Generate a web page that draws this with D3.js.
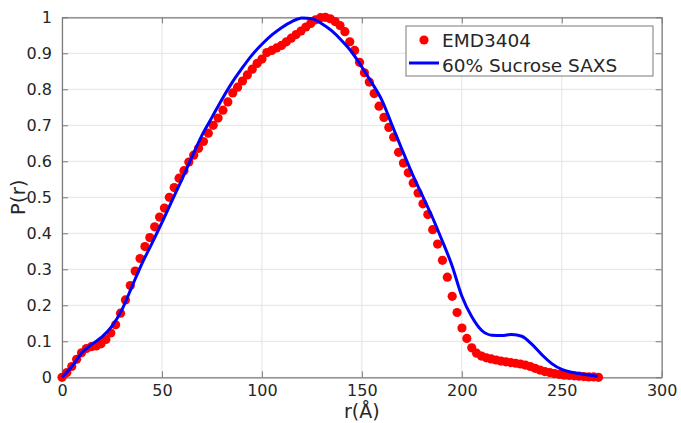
<!DOCTYPE html>
<html>
<head>
<meta charset="utf-8">
<script src="https://cdn.jsdelivr.net/npm/d3@7"></script>
<style>
  body { margin: 0; background: #fff; }
  svg text { font-family: "DejaVu Sans", sans-serif; fill: #262626; }
</style>
</head>
<body>
<div id="chart"></div>
<script>
// EMD3404 P(r) samples
const emdR = [0, 2.44, 4.88, 7.32, 9.76, 12.2, 14.64, 17.08, 19.52, 21.96,
  24.4, 26.84, 29.28, 31.72, 34.16, 36.6, 39.04, 41.48, 43.92, 46.36,
  48.8, 51.24, 53.68, 56.12, 58.56, 61, 63.44, 65.88, 68.32, 70.76,
  73.2, 75.64, 78.08, 80.52, 82.96, 85.4, 87.84, 90.28, 92.72, 95.16,
  97.6, 100.04, 102.48, 104.92, 107.36, 109.8, 112.24, 114.68, 117.12, 119.56,
  122, 124.44, 126.88, 129.32, 131.76, 134.2, 136.64, 139.08, 141.52, 143.96,
  146.4, 148.84, 151.28, 153.72, 156.16, 158.6, 161.04, 163.48, 165.92, 168.36,
  170.8, 173.24, 175.68, 178.12, 180.56, 183, 185.44, 187.88, 190.32, 192.76,
  195.2, 197.64, 200.08, 202.52, 204.96, 207.4, 209.84, 212.28, 214.72, 217.16,
  219.6, 222.04, 224.48, 226.92, 229.36, 231.8, 234.24, 236.68, 239.12, 241.56,
  244, 246.44, 248.88, 251.32, 253.76, 256.2, 258.64, 261.08, 263.52, 265.96, 268.4];
const emdP = [0, 0.013, 0.03, 0.05, 0.068, 0.08, 0.085, 0.087, 0.093, 0.105,
  0.123, 0.146, 0.178, 0.215, 0.255, 0.295, 0.33, 0.363, 0.388, 0.418,
  0.445, 0.47, 0.5, 0.527, 0.553, 0.574, 0.598, 0.617, 0.636, 0.655,
  0.678, 0.7, 0.72, 0.742, 0.765, 0.79, 0.806, 0.823, 0.84, 0.856,
  0.872, 0.884, 0.902, 0.908, 0.915, 0.922, 0.932, 0.942, 0.952, 0.962,
  0.973, 0.983, 0.993, 0.999, 1.0, 0.996, 0.988, 0.977, 0.96, 0.932,
  0.908, 0.875, 0.846, 0.82, 0.788, 0.753, 0.722, 0.694, 0.667, 0.625,
  0.595, 0.568, 0.54, 0.512, 0.482, 0.452, 0.41, 0.37, 0.325, 0.278,
  0.225, 0.18, 0.137, 0.108, 0.082, 0.067, 0.059, 0.054, 0.051, 0.048,
  0.045, 0.043, 0.041, 0.039, 0.037, 0.034, 0.03, 0.025, 0.02, 0.016,
  0.013, 0.01, 0.008, 0.006, 0.005, 0.004, 0.003, 0.002, 0.001, 0.001, 0];

// 60% sucrose SAXS P(r)
const saxsR = [0, 5, 10, 15, 20, 25, 30, 35, 40, 45, 50, 55, 60, 65, 70, 75, 80, 85, 90, 95,
  100, 105, 110, 115, 120, 125, 130, 135, 140, 145, 150, 155, 160, 165, 170, 175, 180, 185, 190, 195,
  200, 205, 210, 215, 220, 225, 230, 235, 240, 245, 250, 255, 260, 265, 268];
const saxsP = [0, 0.03, 0.068, 0.092, 0.112, 0.142, 0.188, 0.252, 0.316, 0.372, 0.43, 0.49, 0.55, 0.612, 0.672, 0.722, 0.772, 0.818, 0.858, 0.895,
  0.925, 0.951, 0.972, 0.988, 0.998, 0.996, 0.982, 0.962, 0.935, 0.903, 0.862, 0.818, 0.77, 0.702, 0.634, 0.568, 0.508, 0.448, 0.382, 0.312,
  0.226, 0.168, 0.13, 0.117, 0.116, 0.119, 0.114, 0.092, 0.063, 0.038, 0.022, 0.014, 0.009, 0.005, 0.003];

const xTicks = [0, 50, 100, 150, 200, 250, 300];
const yTicks = [0, 0.1, 0.2, 0.3, 0.4, 0.5, 0.6, 0.7, 0.8, 0.9, 1];
const legendLabels = ["EMD3404", "60% Sucrose SAXS"];

const width = 681, height = 423;
const margin = {top: 17.3, left: 62, bottom: 45.7, right: 19.3};
const plotW = width - margin.left - margin.right;
const plotH = height - margin.top - margin.bottom;
const tickLen = 6;

const svg = d3.select("#chart").append("svg")
    .attr("width", width)
    .attr("height", height);

const g = svg.append("g")
    .attr("transform", "translate(" + margin.left + "," + margin.top + ")");

const x = d3.scaleLinear().domain([0, 300]).range([0, plotW]);
const y = d3.scaleLinear().domain([0, 1]).range([plotH, 0]);

// grid
g.append("g").selectAll("line").data(xTicks).join("line")
    .attr("x1", d => x(d)).attr("x2", d => x(d))
    .attr("y1", 0).attr("y2", plotH)
    .attr("stroke", "#e3e3e3").attr("stroke-width", 1);
g.append("g").selectAll("line").data(yTicks).join("line")
    .attr("x1", 0).attr("x2", plotW)
    .attr("y1", d => y(d)).attr("y2", d => y(d))
    .attr("stroke", "#e3e3e3").attr("stroke-width", 1);

// axes, ticks inside, box on
const xAxis = g.append("g")
    .attr("transform", "translate(0," + plotH + ")")
    .call(d3.axisBottom(x).tickValues(xTicks).tickSizeInner(-tickLen).tickSizeOuter(0).tickPadding(7));
const yAxis = g.append("g")
    .call(d3.axisLeft(y).tickValues(yTicks).tickFormat(d => d3.format("")(+d.toFixed(1))).tickSizeInner(-tickLen).tickSizeOuter(0).tickPadding(10));
const xTop = g.append("g")
    .call(d3.axisTop(x).tickValues(xTicks).tickSizeInner(-tickLen).tickSizeOuter(0).tickFormat(""));
const yRight = g.append("g")
    .attr("transform", "translate(" + plotW + ",0)")
    .call(d3.axisRight(y).tickValues(yTicks).tickSizeInner(-tickLen).tickSizeOuter(0).tickFormat(""));

[xAxis, yAxis, xTop, yRight].forEach(a => {
  a.select(".domain").attr("stroke", "#7a7a7a").attr("stroke-width", 1.2);
  a.selectAll(".tick line").attr("stroke", "#7a7a7a");
  a.selectAll(".tick text")
      .style("font-family", "DejaVu Sans, sans-serif")
      .style("font-size", "16px")
      .attr("fill", "#262626");
});

// SAXS line
const line = d3.line()
    .x(d => x(d[0]))
    .y(d => y(d[1]))
    .curve(d3.curveMonotoneX);

// EMD dots
g.append("g").selectAll("circle").data(d3.zip(emdR, emdP)).join("circle")
    .attr("cx", d => x(d[0]))
    .attr("cy", d => y(d[1]))
    .attr("r", 4.6)
    .attr("fill", "#ff0000");

g.append("path")
    .datum(d3.zip(saxsR, saxsP))
    .attr("d", line)
    .attr("fill", "none")
    .attr("stroke", "#0000ff")
    .attr("stroke-width", 3);

// axis labels
svg.append("text")
    .attr("x", margin.left + plotW / 2)
    .attr("y", 418)
    .attr("text-anchor", "middle")
    .style("font-size", "19px")
    .text("r(Å)");
svg.append("text")
    .attr("transform", "translate(25," + (margin.top + plotH / 2) + ") rotate(-90)")
    .attr("text-anchor", "middle")
    .style("font-size", "20px")
    .text("P(r)");

// legend
const leg = svg.append("g");
leg.append("rect")
    .attr("x", 406).attr("y", 26)
    .attr("width", 247).attr("height", 50)
    .attr("fill", "#fff")
    .attr("stroke", "#7a7a7a")
    .attr("stroke-width", 1);
leg.append("circle")
    .attr("cx", 424).attr("cy", 40).attr("r", 4.6)
    .attr("fill", "#ff0000");
leg.append("line")
    .attr("x1", 409).attr("x2", 439)
    .attr("y1", 63).attr("y2", 63)
    .attr("stroke", "#0000ff").attr("stroke-width", 3);
leg.selectAll("text.lab").data(legendLabels).join("text")
    .attr("class", "lab")
    .attr("x", 442)
    .attr("y", (d, i) => 47 + i * 25)
    .style("font-size", "18.5px")
    .text(d => d);
</script>
</body>
</html>
